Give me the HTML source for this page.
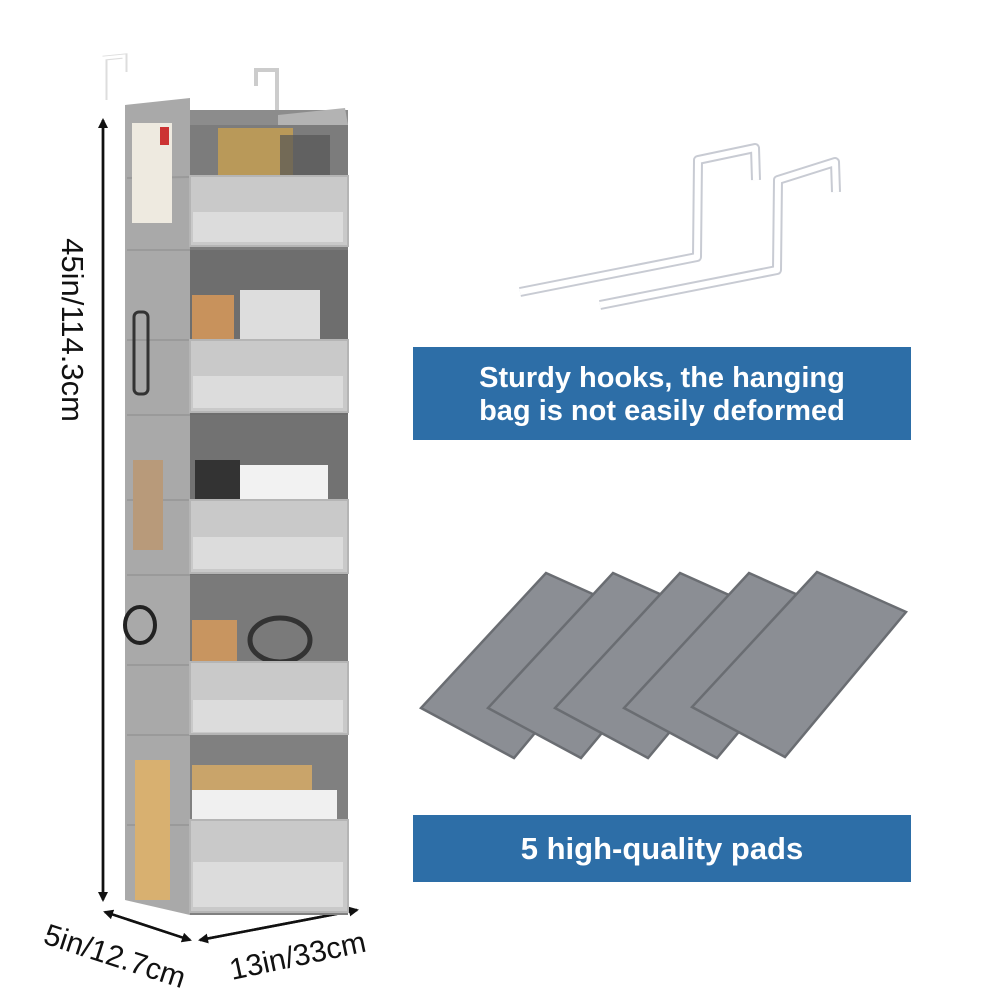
<!DOCTYPE html>
<html><head><meta charset="utf-8"><style>
html,body{margin:0;padding:0;background:#fff;}
svg{display:block;}
text{font-family:"Liberation Sans",sans-serif;}
</style></head><body>
<svg width="1000" height="1000" viewBox="0 0 1000 1000" xmlns="http://www.w3.org/2000/svg">
<defs>
<marker id="ah" markerWidth="10" markerHeight="10" refX="8" refY="5" orient="auto" markerUnits="userSpaceOnUse"><path d="M0,0 L10,5 L0,10 z" fill="#111"/></marker>
</defs>
<path d="M105,100 L105,58 L125,56 L125,72" fill="none" stroke="#ddd" stroke-width="5"/>
<path d="M104,100 L104,58 L124,56 L124,72" fill="none" stroke="#fff" stroke-width="3"/>
<path d="M277,115 L277,70 L256,70 L256,86" fill="none" stroke="#ccc" stroke-width="4"/>
<line x1="103" y1="895" x2="103" y2="120" stroke="#111" stroke-width="2.5" marker-end="url(#ah)"/>
<line x1="103" y1="120" x2="103" y2="900" stroke="#111" stroke-width="2.5" marker-end="url(#ah)"/>
<text x="0" y="0" transform="translate(62,330) rotate(90)" text-anchor="middle" font-size="31" fill="#111">45in/114.3cm</text>
<line x1="105" y1="912" x2="190" y2="940" stroke="#111" stroke-width="2.5" marker-end="url(#ah)"/>
<line x1="190" y1="940" x2="105" y2="912" stroke="#111" stroke-width="2.5" marker-end="url(#ah)"/>
<line x1="200" y1="940" x2="357" y2="910" stroke="#111" stroke-width="2.5" marker-end="url(#ah)"/>
<line x1="357" y1="910" x2="200" y2="940" stroke="#111" stroke-width="2.5" marker-end="url(#ah)"/>
<text transform="translate(42,943) rotate(18)" font-size="30" fill="#111">5in/12.7cm</text>
<text transform="translate(232,980) rotate(-12)" font-size="30" fill="#111">13in/33cm</text>
<polygon points="125,105 190,98 190,915 125,900" fill="#a9a9a9"/>
<g stroke="#9a9a9a" stroke-width="2">
<line x1="127" y1="250" x2="190" y2="250"/><line x1="127" y1="415" x2="190" y2="415"/>
<line x1="127" y1="575" x2="190" y2="575"/><line x1="127" y1="735" x2="190" y2="735"/>
<line x1="127" y1="178" x2="190" y2="177"/><line x1="127" y1="340" x2="190" y2="340"/>
<line x1="127" y1="500" x2="190" y2="500"/><line x1="127" y1="665" x2="190" y2="665"/>
<line x1="127" y1="825" x2="190" y2="825"/>
</g>
<rect x="132" y="123" width="40" height="100" fill="#eeeae0"/>
<rect x="160" y="127" width="9" height="18" fill="#c33"/>
<rect x="134" y="312" width="14" height="82" fill="none" stroke="#333" stroke-width="3" rx="5"/>
<rect x="133" y="460" width="30" height="90" fill="#b89a7a"/>
<ellipse cx="140" cy="625" rx="15" ry="18" fill="none" stroke="#222" stroke-width="4"/>
<rect x="135" y="760" width="35" height="140" fill="#d8b070"/>
<rect x="190" y="110" width="158" height="805" fill="#8c8c8c"/>
<polygon points="278,115 345,108 348,125 278,125" fill="#b3b3b3"/>
<rect x="190" y="125" width="158" height="125" fill="#7c7c7c"/>
<rect x="190" y="250" width="158" height="165" fill="#6e6e6e"/>
<rect x="190" y="415" width="158" height="160" fill="#727272"/>
<rect x="190" y="575" width="158" height="160" fill="#7a7a7a"/>
<rect x="190" y="735" width="158" height="180" fill="#808080"/>
<rect x="218" y="128" width="75" height="48" fill="#c8a050" opacity="0.8"/>
<rect x="280" y="135" width="50" height="40" fill="#555" opacity="0.7"/>
<rect x="192" y="295" width="42" height="45" fill="#c8925c"/>
<rect x="240" y="290" width="80" height="50" fill="#ddd"/>
<rect x="195" y="460" width="45" height="40" fill="#333"/>
<rect x="240" y="465" width="88" height="36" fill="#f2f2f2"/>
<rect x="192" y="620" width="45" height="45" fill="#c89560"/>
<ellipse cx="280" cy="640" rx="30" ry="22" fill="none" stroke="#333" stroke-width="5"/>
<rect x="192" y="765" width="120" height="50" fill="#c9a46a"/>
<rect x="192" y="790" width="145" height="30" fill="#f0f0f0"/>
<g fill="#c9c9c9" stroke="#b5b5b5" stroke-width="2">
<rect x="190" y="176" width="158" height="70"/>
<rect x="190" y="340" width="158" height="72"/>
<rect x="190" y="500" width="158" height="73"/>
<rect x="190" y="662" width="158" height="72"/>
<rect x="190" y="820" width="158" height="92"/>
</g>
<g fill="#dcdcdc">
<rect x="193" y="212" width="150" height="30"/>
<rect x="193" y="376" width="150" height="32"/>
<rect x="193" y="537" width="150" height="32"/>
<rect x="193" y="700" width="150" height="32"/>
<rect x="193" y="862" width="150" height="45"/>
</g>
<g fill="none" stroke-linejoin="round">
<polyline points="520,292 697,257 698,160 755,148 756,180" stroke="#c8cbd3" stroke-width="10"/>
<polyline points="520,292 697,257 698,160 755,148 756,180" stroke="#fff" stroke-width="6"/>
<polyline points="600,305 777,270 778,180 835,162 836,192" stroke="#c8cbd3" stroke-width="10"/>
<polyline points="600,305 777,270 778,180 835,162 836,192" stroke="#fff" stroke-width="6"/>
</g>
<rect x="413" y="347" width="498" height="93" fill="#2d6ea7"/>
<text x="662" y="387" text-anchor="middle" font-size="29" font-weight="bold" fill="#fff">Sturdy hooks, the hanging</text>
<text x="662" y="420" text-anchor="middle" font-size="29" font-weight="bold" fill="#fff">bag is not easily deformed</text>
<rect x="413" y="815" width="498" height="67" fill="#2d6ea7"/>
<text x="662" y="859" text-anchor="middle" font-size="31" font-weight="bold" fill="#fff">5 high-quality pads</text>
<g fill="#8b8e94" stroke="#6a6d72" stroke-width="2.5">
<polygon points="546,573 635,613 514,758 421,708"/>
<polygon points="613,573 702,613 581,758 488,708"/>
<polygon points="680,573 769,613 648,758 555,708"/>
<polygon points="749,573 838,613 717,758 624,708"/>
<polygon points="817,572 906,612 785,757 692,707"/>
</g>
</svg>
</body></html>
